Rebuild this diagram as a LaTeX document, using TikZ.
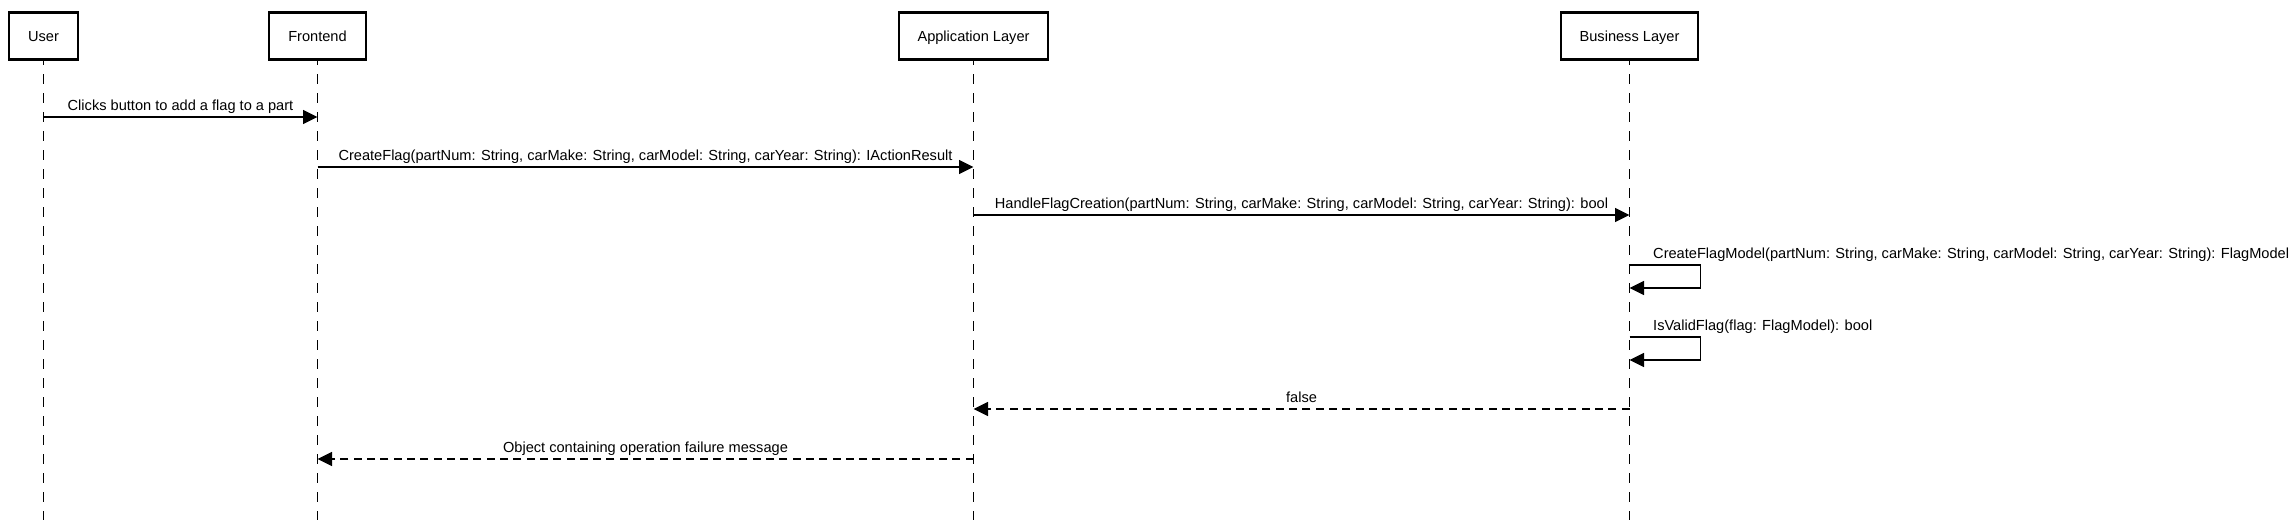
\documentclass[tikz,border=0pt]{standalone}
\usepackage{fontspec}
\setmainfont{Liberation Sans}
\usetikzlibrary{arrows.meta}
\begin{document}
\begin{tikzpicture}[x=1pt,y=-1pt,
  every node/.style={font=\fontsize{14.6}{17}\selectfont, inner sep=0pt},
  actor/.style={draw, line width=2.6pt, minimum height=47pt, text height=10.5pt, text depth=0pt, fill=white},
  lifeline/.style={line width=1.1pt, dash pattern=on 10pt off 9pt},
  msg/.style={line width=1.3pt, -{Triangle[length=14.5pt,width=14pt]}},
  ret/.style={msg, dash pattern=on 8pt off 5.3pt},
  lbl/.style={anchor=base},
  selflbl/.style={anchor=base west}]
\useasboundingbox (0,0) rectangle (2293,520);

% lifeline end coordinates
\coordinate (userEnd) at (43.5,520);
\coordinate (feEnd) at (317.5,520);
\coordinate (appEnd) at (973.5,520);
\coordinate (busEnd) at (1629.5,520);

\draw[lifeline] (43.5,36) -- (userEnd);
\draw[lifeline] (317.5,36) -- (feEnd);
\draw[lifeline] (973.5,36) -- (appEnd);
\draw[lifeline] (1629.5,36) -- (busEnd);

% actors
\node[actor, minimum width=69pt] (user) at (43.5,36) {User};
\node[actor, minimum width=97pt] (fe) at (317.5,36) {Frontend};
\node[actor, minimum width=149pt] (app) at (973.5,36) {Application Layer};
\node[actor, minimum width=137pt] (bus) at (1629.5,36) {Business Layer};

% message end points
\coordinate (m1a) at (43.5,117);  \coordinate (m1b) at (317.5,117);
\coordinate (m2a) at (317.5,167); \coordinate (m2b) at (973.5,167);
\coordinate (m3a) at (973.5,215); \coordinate (m3b) at (1629.5,215);
\coordinate (s1a) at (1629.5,265);  \coordinate (s1b) at (1629.5,288);
\coordinate (s2a) at (1629.5,337);  \coordinate (s2b) at (1629.5,360);
\coordinate (r1a) at (1629.5,409);  \coordinate (r1b) at (973.5,409);
\coordinate (r2a) at (973.5,459);   \coordinate (r2b) at (317.5,459);

\draw[msg] (m1a) -- (m1b);
\node[lbl] (l1) at (180.5,110) {Clicks button to add a flag to a part};

\draw[msg] (m2a) -- (m2b);
\node[lbl] (l2) at (645.5,160) {CreateFlag(partNum: String, carMake: String, carModel: String, carYear: String): IActionResult};

\draw[msg] (m3a) -- (m3b);
\node[lbl] (l3) at (1301.5,208) {HandleFlagCreation(partNum: String, carMake: String, carModel: String, carYear: String): bool};

\draw[msg] (s1a) -- ++(71,0) |- (s1b);
\node[selflbl] (l4) at (1653,258) {CreateFlagModel(partNum: String, carMake: String, carModel: String, carYear: String): FlagModel};

\draw[msg] (s2a) -- ++(71,0) |- (s2b);
\node[selflbl] (l5) at (1653,330) {IsValidFlag(flag: FlagModel): bool};

\draw[ret] (r1a) -- (r1b);
\node[lbl] (l6) at (1301.5,402) {false};

\draw[ret] (r2a) -- (r2b);
\node[lbl] (l7) at (645.5,452) {Object containing operation failure message};
\end{tikzpicture}
\end{document}
